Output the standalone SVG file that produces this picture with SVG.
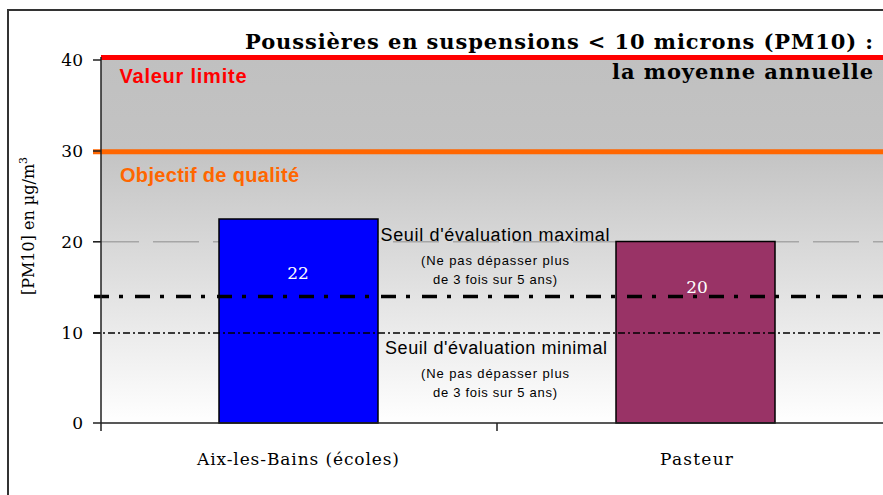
<svg xmlns="http://www.w3.org/2000/svg" width="883" height="495" viewBox="0 0 883 495">
<defs>
<linearGradient id="bg" x1="0" y1="0" x2="0" y2="1">
<stop offset="0" stop-color="#c0c0c0"/>
<stop offset="0.25" stop-color="#c3c3c3"/>
<stop offset="1" stop-color="#ffffff"/>
</linearGradient>
<style>
.serif{font-family:"DejaVu Serif","Liberation Serif",serif;fill:#000}
.tick{font-size:17px;text-anchor:end}
.sans{font-family:"Liberation Sans",Arial,sans-serif;fill:#000}
.axis{stroke:#222;stroke-width:1.5;fill:none}
.bar{stroke:#000;stroke-width:1.5}
.val{font-family:"DejaVu Serif","Liberation Serif",serif;font-size:17px;fill:#fff;text-anchor:middle}
.note{font-size:13px;text-anchor:middle}
.big{font-size:18px;text-anchor:middle}
</style>
</defs>
<rect width="883" height="495" fill="#fff"/>
<g id="frame">
<path d="M8,495 V10 H883" stroke="#333" stroke-width="2" fill="none"/>
</g>
<g id="plot">
<rect x="101" y="58" width="782" height="365" fill="url(#bg)"/>
<line x1="93" y1="241.7" x2="883" y2="241.7" stroke="#a6a6a6" stroke-width="1.5" stroke-dasharray="46 14"/>
</g>
<g id="bar-aix">
<rect class="bar" x="219" y="219" width="159" height="204" fill="#0000ff"/>
<text class="val" x="298" y="279">22</text>
</g>
<g id="bar-pasteur">
<rect class="bar" x="616" y="241.5" width="159" height="181.5" fill="#993366"/>
<text class="val" x="697" y="293">20</text>
</g>
<g id="connectors">
<line x1="101" y1="57.5" x2="883" y2="57.5" stroke="#ff0000" stroke-width="5"/>
<line x1="93" y1="151.8" x2="883" y2="151.8" stroke="#ff6600" stroke-width="5"/>
<line x1="94" y1="296.5" x2="883" y2="296.5" stroke="#000" stroke-width="3.5" stroke-dasharray="15 10 4 12"/>
<line x1="93" y1="333" x2="883" y2="333" stroke="#000" stroke-width="1.3" stroke-dasharray="7 3 2 3"/>
<path class="axis" d="M101,57 V431 M93,423 H883 M93,60 H101 M93,151 H101 M93,241.7 H101 M93,333 H101 M497,423 V431"/>
</g>
<g id="ticks">
<text class="serif tick" x="83" y="66">40</text>
<text class="serif tick" x="83" y="157">30</text>
<text class="serif tick" x="83" y="248">20</text>
<text class="serif tick" x="83" y="339">10</text>
<text class="serif tick" x="83" y="429">0</text>
</g>
<g id="ylabel">
<text class="serif" font-size="16" text-anchor="middle" transform="translate(34,226) rotate(-90)">[PM10] en µg/m<tspan dy="-7" font-size="11">3</tspan></text>
</g>
<g id="title">
<text class="serif" font-weight="bold" font-size="21" x="245" y="49" textLength="628" lengthAdjust="spacing">Poussières en suspensions &lt; 10 microns (PM10) :</text>
<text class="serif" font-weight="bold" font-size="21" x="612" y="79" textLength="261" lengthAdjust="spacing">la moyenne annuelle</text>
</g>
<g id="limits">
<text class="sans" font-weight="bold" font-size="20" x="119.5" y="82.5" style="fill:#ff0000" textLength="127" lengthAdjust="spacing">Valeur limite</text>
<text class="sans" font-weight="bold" font-size="20" x="120" y="182" style="fill:#ff6600" textLength="179" lengthAdjust="spacing">Objectif de qualité</text>
</g>
<g id="seuil-max">
<text class="sans big" x="495" y="241" textLength="229" lengthAdjust="spacing">Seuil d'évaluation maximal</text>
<text class="sans note" x="495" y="265" textLength="148" lengthAdjust="spacing">(Ne pas dépasser plus</text>
<text class="sans note" x="495" y="284" textLength="124" lengthAdjust="spacing">de 3 fois sur 5 ans)</text>
</g>
<g id="seuil-min">
<text class="sans big" x="496" y="354" textLength="222" lengthAdjust="spacing">Seuil d'évaluation minimal</text>
<text class="sans note" x="495" y="378" textLength="148" lengthAdjust="spacing">(Ne pas dépasser plus</text>
<text class="sans note" x="495" y="397" textLength="124" lengthAdjust="spacing">de 3 fois sur 5 ans)</text>
</g>
<g id="xlabels">
<text class="serif" font-size="17" x="197" y="465" textLength="202" lengthAdjust="spacing">Aix-les-Bains (écoles)</text>
<text class="serif" font-size="17" x="660" y="465" textLength="73" lengthAdjust="spacing">Pasteur</text>
</g>
</svg>
